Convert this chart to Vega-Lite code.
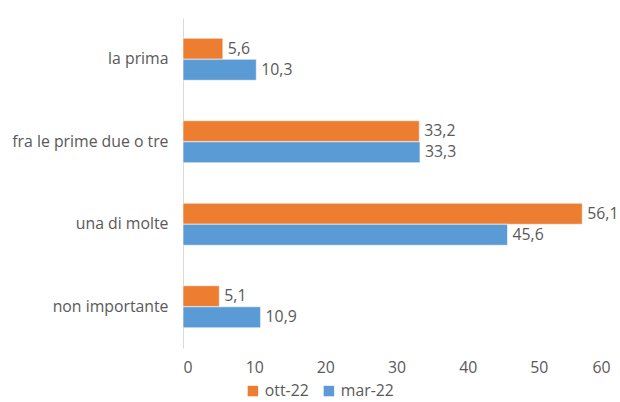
{
  "$schema": "https://vega.github.io/schema/vega-lite/v6.json",
  "autosize": "none",
  "width": 427,
  "height": 330,
  "padding": {"left": 183, "top": 18, "right": 10, "bottom": 54},
  "background": "white",
  "config": {
    "view": {"stroke": null},
    "font": "Open Sans",
    "locale": {"number": {"decimal": ",", "thousands": ".", "grouping": [3], "currency": ["€", ""]}}
  },
  "data": {
    "values": [
      {"categoria": "la prima", "periodo": "ott-22", "valore": 5.6},
      {"categoria": "la prima", "periodo": "mar-22", "valore": 10.3},
      {"categoria": "fra le prime due o tre", "periodo": "ott-22", "valore": 33.2},
      {"categoria": "fra le prime due o tre", "periodo": "mar-22", "valore": 33.3},
      {"categoria": "una di molte", "periodo": "ott-22", "valore": 56.1},
      {"categoria": "una di molte", "periodo": "mar-22", "valore": 45.6},
      {"categoria": "non importante", "periodo": "ott-22", "valore": 5.1},
      {"categoria": "non importante", "periodo": "mar-22", "valore": 10.9}
    ]
  },
  "encoding": {
    "y": {
      "field": "categoria",
      "type": "nominal",
      "sort": ["la prima", "fra le prime due o tre", "una di molte", "non importante"],
      "scale": {"paddingInner": 0.49, "paddingOuter": 0.245},
      "axis": {
        "title": null,
        "ticks": false,
        "domainColor": "#d9d9d9",
        "domainWidth": 1,
        "labelFontSize": 15.8,
        "labelColor": "#595959",
        "labelPadding": 15
      }
    },
    "yOffset": {
      "field": "periodo",
      "type": "nominal",
      "sort": ["ott-22", "mar-22"]
    },
    "x": {
      "field": "valore",
      "type": "quantitative",
      "scale": {"domain": [0, 60], "nice": false},
      "axis": {
        "title": null,
        "values": [0, 10, 20, 30, 40, 50, 60],
        "grid": false,
        "domain": false,
        "ticks": false,
        "labelFontSize": 15.8,
        "labelColor": "#595959",
        "labelPadding": 12,
        "format": "d"
      }
    }
  },
  "layer": [
    {
      "mark": {"type": "bar", "stroke": "white", "strokeWidth": 1, "strokeOpacity": 0.6},
      "encoding": {
        "color": {
          "field": "periodo",
          "type": "nominal",
          "sort": ["ott-22", "mar-22"],
          "scale": {"domain": ["ott-22", "mar-22"], "range": ["#ED7D31", "#5B9BD5"]},
          "legend": {
            "title": null,
            "orient": "none",
            "direction": "horizontal",
            "legendX": 62,
            "legendY": 365,
            "symbolType": "square",
            "symbolSize": 110,
            "symbolStrokeWidth": 0,
            "labelFontSize": 15.8,
            "labelColor": "#595959",
            "columnPadding": 12,
            "labelOffset": 4
          }
        }
      }
    },
    {
      "mark": {"type": "text", "align": "left", "baseline": "middle", "dx": 5, "fontSize": 15.8, "fill": "#595959"},
      "encoding": {
        "text": {"field": "valore", "type": "quantitative", "format": ".1f"}
      }
    }
  ]
}
